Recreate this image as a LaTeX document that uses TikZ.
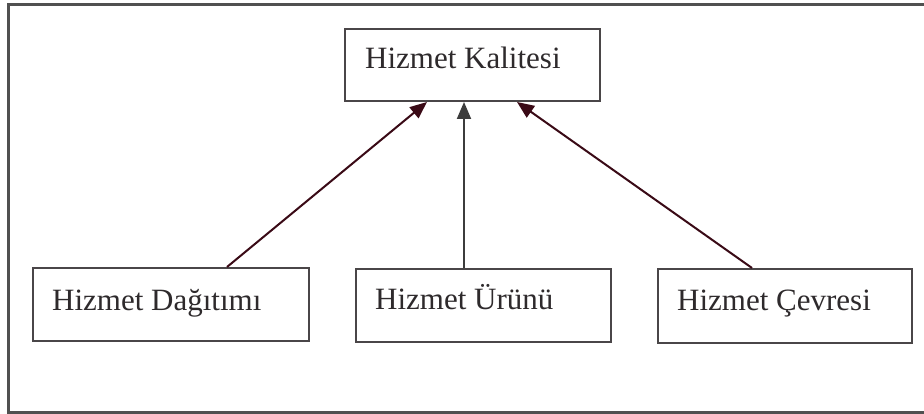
\documentclass[tikz,border=0pt]{standalone}
\usepackage{fontspec}
\setmainfont{Liberation Serif}
\usetikzlibrary{arrows.meta,calc}
\definecolor{framegray}{HTML}{505050}
\definecolor{boxgray}{HTML}{4A4648}
\definecolor{txtgray}{HTML}{2E2A2C}
\definecolor{maroon}{HTML}{3A0A16}
\definecolor{arrgray}{HTML}{3C3C3C}
\tikzset{
  box/.style={draw=boxgray, line width=2pt, rectangle, inner sep=0pt, anchor=north west},
  lbl/.style={anchor=base west, inner sep=0pt, text=txtgray, font=\fontsize{31}{31}\selectfont},
  arrm/.style={draw=maroon, line width=2pt, -{Triangle[length=17pt,width=14pt]}},
  arrg/.style={draw=arrgray, line width=2pt, -{Triangle[length=17pt,width=14pt]}}
}
\begin{document}
\begin{tikzpicture}[x=1pt,y=-1pt]
\clip (0,0) rectangle (924,414);
\fill[white] (0,0) rectangle (924,414);
\draw[framegray, line width=3pt] (930,5) -- (8,5) -- (8,412) -- (930,412);
\node[box, minimum width=255pt, minimum height=72pt] (kal) at (344,28) {};
\node[lbl] (kalt) at (365,69) {Hizmet Kalitesi};
\node[box, minimum width=276pt, minimum height=73pt] (dag) at (32,267) {};
\node[lbl] (dagt) at (52,310) {Hizmet Dağıtımı};
\node[box, minimum width=255pt, minimum height=73pt] (uru) at (355,268) {};
\node[lbl] (urut) at (375,309) {Hizmet Ürünü};
\node[box, minimum width=254pt, minimum height=74pt] (cev) at (657,268) {};
\node[lbl] (cevt) at (677,310) {Hizmet Çevresi};
\coordinate (d1) at ($(dag.north west)+(195,0)$);
\coordinate (k1) at ($(kal.south west)+(83,0)$);
\coordinate (u1) at ($(uru.north west)+(109,0)$);
\coordinate (k2) at ($(kal.south west)+(120,0)$);
\coordinate (c1) at ($(cev.north west)+(95,0)$);
\coordinate (k3) at ($(kal.south west)+(173,0)$);
\draw[arrm] (d1) -- (k1);
\draw[arrg] (u1) -- (k2);
\draw[arrm] (c1) -- (k3);
\end{tikzpicture}
\end{document}
